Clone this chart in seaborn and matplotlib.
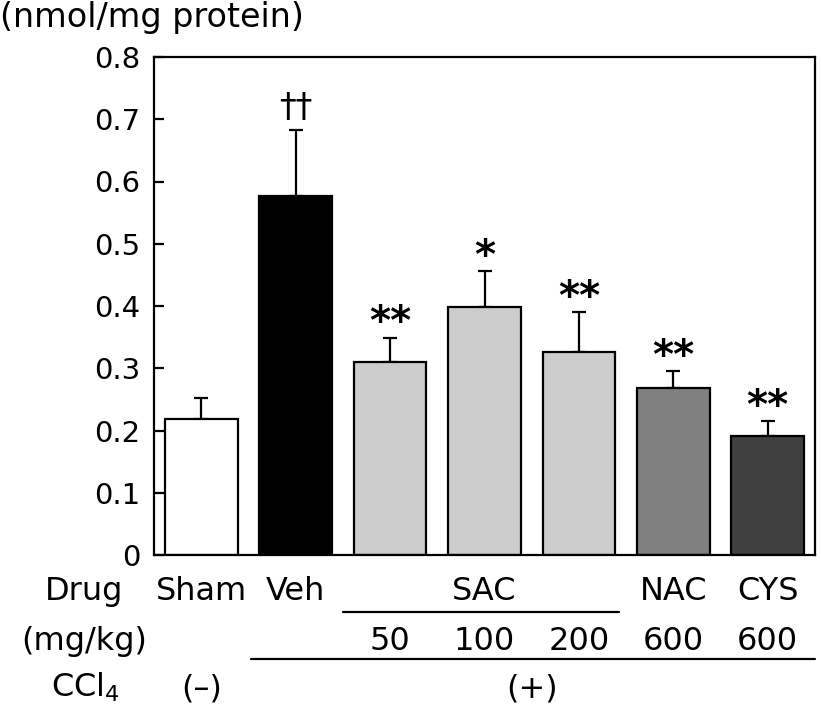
import numpy as np
import pandas as pd
import matplotlib
matplotlib.use("Agg")
import matplotlib.pyplot as plt
import matplotlib.transforms as mtransforms
from matplotlib.lines import Line2D
import seaborn as sns

sns.set_style("ticks", {"axes.edgecolor": "black", "text.color": "black",
                        "ytick.color": "black", "xtick.color": "black",
                        "axes.labelcolor": "black"})
plt.rcParams["font.family"] = ["DejaVu Sans"]

# data
groups = ["Sham", "Veh", "SAC 50", "SAC 100", "SAC 200", "NAC", "CYS"]
means = [0.219, 0.577, 0.310, 0.398, 0.326, 0.269, 0.191]
sems = [0.033, 0.105, 0.039, 0.058, 0.064, 0.026, 0.024]
marks = ["", "\u2020\u2020", "**", "*", "**", "**", "**"]
bar_colors = ["#ffffff", "#000000", "#cccccc", "#cccccc", "#cccccc", "#808080", "#404040"]

drug_labels = ["Sham", "Veh", "", "SAC", "", "NAC", "CYS"]
dose_labels = ["", "", "50", "100", "200", "600", "600"]
yticks = [0, 0.1, 0.2, 0.3, 0.4, 0.5, 0.6, 0.7, 0.8]
ytick_labels = ["0", "0.1", "0.2", "0.3", "0.4", "0.5", "0.6", "0.7", "0.8"]

df = pd.DataFrame({"group": groups, "mean": means, "sem": sems})

W, H = 821, 705
fig = plt.figure(figsize=(W / 100, H / 100), dpi=100)
ax = fig.add_axes([154 / W, 150 / H, 661 / W, 498 / H])

sns.barplot(data=df, x="group", y="mean", hue="group", palette=bar_colors,
            edgecolor="black", linewidth=1.6, width=0.77, errorbar=None,
            legend=False, ax=ax, zorder=2)

x = np.arange(len(groups))
ax.errorbar(x, df["mean"], yerr=[np.zeros(len(groups)), df["sem"]], fmt="none",
            ecolor="black", elinewidth=1.6, capsize=5, capthick=1.6, zorder=1)

# significance marks
for xi, m, s, mk in zip(x, means, sems, marks):
    if not mk:
        continue
    if mk == "*" or mk == "**":
        ax.annotate(mk, (xi, m + s), xytext=(0, 2.5), textcoords="offset points",
                    ha="center", va="baseline", fontsize=29, fontweight="bold")
    else:
        ax.annotate(mk, (xi, m + s), xytext=(0, 10), textcoords="offset points",
                    ha="center", va="baseline", fontsize=24)

ax.set_xlim(-0.5, 6.5)
ax.set_ylim(0, 0.8)
ax.set_yticks(yticks)
ax.set_yticklabels(ytick_labels)
ax.set_xticks([])
ax.set_xlabel("")
ax.set_ylabel("")
ax.tick_params(axis="y", direction="in", length=7.5, width=1.6, pad=10, labelsize=21)
for sp in ax.spines.values():
    sp.set_linewidth(1.6)
    sp.set_visible(True)

fig.text(0.0, 1 - 17 / H, "(nmol/mg protein)", ha="left", va="center", fontsize=24)

# table below the axis
tr = mtransforms.blended_transform_factory(ax.transData, fig.transFigure)
row_drug = 1 - 600 / H
row_dose = 1 - 650 / H
row_ccl = 1 - 697 / H
fs = 23
for xi, lab in zip(x, drug_labels):
    if lab:
        ax.text(xi, row_drug, lab, transform=tr, ha="center", va="baseline", fontsize=fs)
for xi, lab in zip(x, dose_labels):
    if lab:
        ax.text(xi, row_dose, lab, transform=tr, ha="center", va="baseline", fontsize=fs)
ax.text(0, row_ccl, "(\u2013)", transform=tr, ha="center", va="baseline", fontsize=fs)
ax.text(3.5, row_ccl, "(+)", transform=tr, ha="center", va="baseline", fontsize=fs)

fig.text(84 / W, row_drug, "Drug", ha="center", va="baseline", fontsize=fs)
fig.text(84 / W, row_dose, "(mg/kg)", ha="center", va="baseline", fontsize=fs)
fig.text(85 / W, row_ccl, "CCl$_4$", ha="center", va="baseline", fontsize=fs)

fig.add_artist(Line2D([1.5, 4.42], [1 - 612 / H] * 2, transform=tr, color="black", lw=1.6))
fig.add_artist(Line2D([0.53, 6.5], [1 - 659 / H] * 2, transform=tr, color="black", lw=1.6))

fig.savefig("out.png", dpi=100)
